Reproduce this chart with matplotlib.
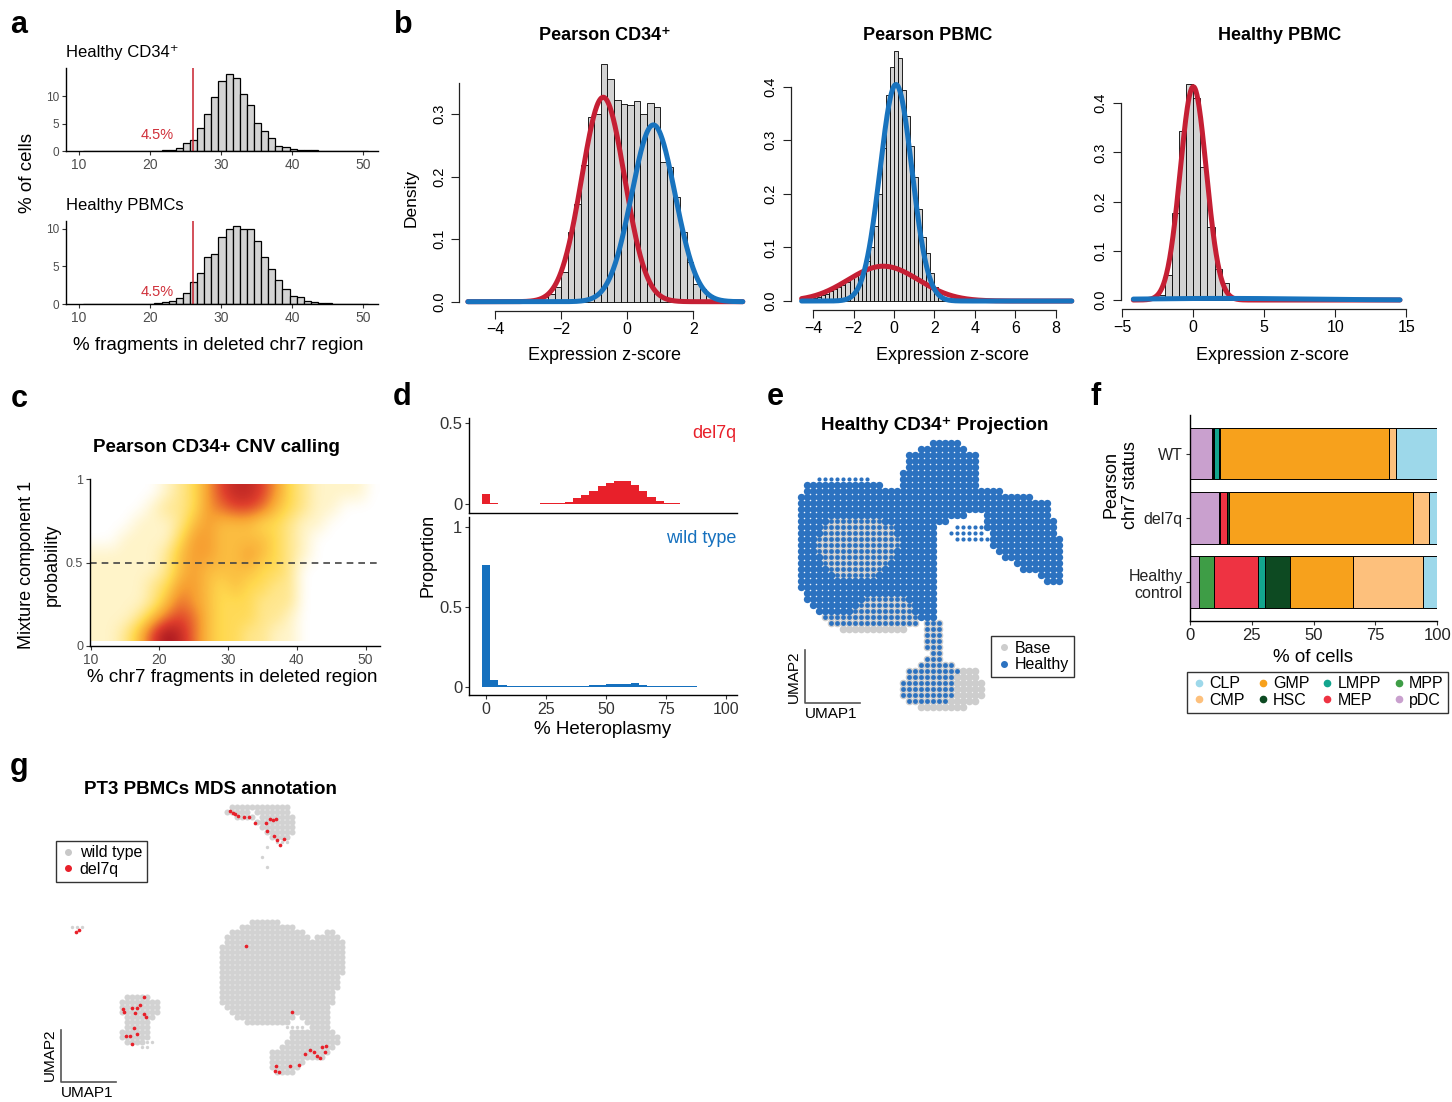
import numpy as np
import matplotlib
matplotlib.use("Agg")
import matplotlib.pyplot as plt
from matplotlib.colors import LinearSegmentedColormap
from matplotlib.lines import Line2D

plt.rcParams["font.family"] = ["Liberation Sans", "DejaVu Sans"]

W, H = 1452, 1102

# ---------------- data ----------------
# a: % of cells in 1-unit bins starting at 10.65
a_bin_left = np.arange(10.65, 50.6, 1.0)
a_cd34 = [0, 0, 0.01, 0.01, 0.02, 0.02, 0.03, 0.04, 0.05, 0.06, 0.08, 0.12, 0.25, 0.6,
          1.5, 2.1, 4.2, 6.7, 9.9, 12.8, 14.1, 13.3, 10.5, 8.4, 5.2, 3.6, 2.45, 0.9,
          0.75, 0.37, 0.25, 0.12, 0.1, 0.07, 0.06, 0.05, 0.04, 0.03, 0.02, 0.02]
a_pbmc = [0, 0, 0.01, 0.01, 0.02, 0.02, 0.03, 0.03, 0.04, 0.08, 0.13, 0.27, 0.45, 0.8,
          1.55, 2.9, 4.1, 6.2, 6.7, 8.9, 9.95, 10.3, 10.0, 10.0, 8.4, 6.2, 4.7, 3.2,
          2.0, 1.15, 0.97, 0.4, 0.27, 0.22, 0.13, 0.1, 0.08, 0.06, 0.05, 0.03]
a_cutoff = 26.1

# b: histogram densities + fitted gaussian components (mean, sd, weight)
b1_left = np.arange(-2.8, 2.7, 0.2)
b1_dens = [0.003, 0.008, 0.013, 0.023, 0.047, 0.112, 0.157, 0.219, 0.296, 0.301, 0.380,
           0.357, 0.323, 0.317, 0.315, 0.321, 0.300, 0.318, 0.311, 0.224, 0.216, 0.167,
           0.112, 0.064, 0.029, 0.021, 0.011, 0.005]
b1_red = (-0.73, 0.65, 0.533)
b1_blue = (0.79, 0.66, 0.468)

b2_left = np.arange(-4.6, 2.7, 0.2)
b2_dens = [0.002, 0.003, 0.004, 0.006, 0.008, 0.011, 0.014, 0.019, 0.023, 0.027, 0.030,
           0.036, 0.043, 0.048, 0.053, 0.060, 0.075, 0.100, 0.140, 0.200, 0.285, 0.384,
           0.437, 0.467, 0.453, 0.394, 0.345, 0.290, 0.232, 0.172, 0.120, 0.090, 0.052,
           0.027, 0.011, 0.004, 0.002]
b2_red = (-0.53, 1.75, 0.285)
b2_blue = (0.10, 0.79, 0.80)

b3_left = np.arange(-3.0, 2.6, 0.5)
b3_dens = [0.002, 0.010, 0.050, 0.176, 0.344, 0.440, 0.410, 0.270, 0.149, 0.063, 0.034, 0.004]
b3_red = (0.0, 0.92, 1.0)
b3_blue = (2.0, 6.0, 0.05)

# c: 2D density levels (0-9), rows top (p=0.95) to bottom (p=0.05), cols x=11..51 step 2
c_density = [
    [0, 0, 0, 0, 0, 1, 2, 3, 5, 7, 8, 8, 7, 5, 3, 2, 1, 1, 1, 1, 0],
    [0, 0, 0, 0, 1, 2, 2, 3, 5, 6, 7, 7, 6, 4, 3, 2, 1, 1, 0, 0, 0],
    [0, 0, 0, 1, 1, 1, 2, 4, 5, 4, 4, 4, 3, 3, 2, 1, 1, 0, 0, 0, 0],
    [0, 0, 1, 1, 1, 1, 3, 5, 5, 4, 4, 4, 4, 3, 2, 1, 0, 0, 0, 0, 0],
    [1, 1, 1, 1, 1, 2, 4, 5, 5, 4, 4, 5, 4, 3, 2, 1, 0, 0, 0, 0, 0],
    [1, 1, 1, 1, 1, 2, 4, 5, 4, 4, 4, 4, 3, 3, 2, 0, 0, 0, 0, 0, 0],
    [1, 1, 1, 1, 2, 3, 5, 5, 4, 3, 4, 3, 3, 2, 2, 0, 0, 0, 0, 0, 0],
    [1, 1, 1, 1, 2, 4, 6, 5, 4, 3, 3, 3, 2, 2, 2, 0, 0, 0, 0, 0, 0],
    [1, 1, 1, 2, 4, 6, 7, 6, 4, 3, 3, 3, 2, 2, 1, 0, 0, 0, 0, 0, 0],
    [1, 1, 2, 4, 7, 9, 8, 6, 4, 3, 3, 2, 2, 1, 1, 0, 0, 0, 0, 0, 0],
]

# d: heteroplasmy histogram proportions, 30 bins centred on 0..100
d_centers = np.linspace(0, 100, 30)
d_del7q = [0.062, 0.008, 0.002, 0.002, 0.002, 0.003, 0.003, 0.004, 0.006, 0.008, 0.014,
           0.035, 0.056, 0.080, 0.110, 0.130, 0.145, 0.145, 0.120, 0.080, 0.045, 0.020,
           0.008, 0.004, 0.003, 0.002, 0.002, 0.001, 0.001, 0.0]
d_wt = [0.76, 0.042, 0.010, 0.004, 0.004, 0.003, 0.003, 0.003, 0.004, 0.004, 0.005, 0.005,
        0.006, 0.008, 0.012, 0.016, 0.018, 0.015, 0.020, 0.012, 0.007, 0.005, 0.004,
        0.003, 0.002, 0.002, 0.001, 0.001, 0.001, 0.0]

# e: UMAP occupancy, row -> runs (col_from, col_to, kind)
# kinds: b = healthy (blue), m = base + healthy, g = base only, s = sparse healthy
e_runs = {
    0: [(22, 26, "b")], 1: [(20, 27, "b")], 2: [(18, 29, "b")], 3: [(18, 29, "b")],
    4: [(18, 29, "b")], 5: [(17, 29, "b")], 6: [(3, 11, "s"), (17, 29, "b")],
    7: [(1, 13, "b"), (17, 29, "b")], 8: [(1, 33, "b")], 9: [(0, 38, "b")],
    10: [(0, 41, "b")], 11: [(0, 41, "b")], 12: [(0, 27, "b"), (31, 41, "b")],
    13: [(0, 4, "b"), (5, 13, "m"), (14, 24, "b"), (31, 42, "b")],
    14: [(0, 3, "b"), (4, 15, "m"), (16, 22, "b"), (26, 30, "s"), (31, 42, "b")],
    15: [(0, 3, "b"), (4, 15, "m"), (16, 22, "b"), (25, 30, "s"), (32, 42, "b")],
    16: [(0, 2, "b"), (3, 16, "m"), (17, 22, "b"), (26, 31, "s"), (32, 43, "b")],
    17: [(0, 2, "b"), (3, 16, "m"), (17, 22, "b"), (32, 43, "b")],
    18: [(0, 2, "b"), (3, 15, "m"), (16, 22, "b"), (33, 43, "b")],
    19: [(0, 3, "b"), (4, 15, "m"), (16, 22, "b"), (34, 43, "b")],
    20: [(0, 3, "b"), (4, 14, "m"), (15, 22, "b"), (36, 43, "b")],
    21: [(0, 4, "b"), (5, 13, "m"), (14, 22, "b"), (37, 43, "b")],
    22: [(0, 5, "b"), (6, 12, "m"), (13, 22, "b"), (40, 43, "b")],
    23: [(0, 22, "b"), (41, 43, "b")], 24: [(0, 22, "b")], 25: [(1, 22, "b")],
    26: [(1, 10, "b"), (11, 17, "m"), (18, 22, "b")],
    27: [(2, 9, "b"), (10, 18, "m"), (19, 22, "b")],
    28: [(3, 8, "b"), (9, 18, "m"), (19, 22, "b")],
    29: [(4, 19, "m"), (20, 22, "b")], 30: [(5, 19, "m"), (21, 23, "m")],
    31: [(7, 17, "g"), (21, 23, "m")], 32: [(21, 23, "m")], 33: [(21, 23, "m")],
    34: [(21, 23, "m")], 35: [(22, 23, "m")], 36: [(21, 23, "m")], 37: [(20, 25, "m")],
    38: [(18, 26, "m"), (27, 29, "g")], 39: [(18, 25, "m"), (26, 29, "g")],
    40: [(17, 25, "m"), (26, 30, "g")], 41: [(17, 25, "m"), (26, 30, "g")],
    42: [(17, 25, "m"), (26, 30, "g")], 43: [(18, 24, "m"), (25, 29, "g")],
    44: [(20, 27, "g")],
}

# f: % of cells per cell type, stacked left to right
f_groups = ["Healthy\ncontrol", "del7q", "WT"]
f_types = ["pDC", "MPP", "MEP", "LMPP", "HSC", "GMP", "CMP", "CLP"]
f_healthy = [3.7, 6.3, 17.6, 2.9, 10.2, 25.4, 28.1, 5.8]
f_del7q = [11.9, 0.2, 2.8, 0.2, 1.0, 73.9, 6.6, 3.4]
f_wt = [9.0, 0.3, 0.7, 1.8, 0.5, 68.0, 3.0, 16.7]
f_colors = {"CLP": "#9DD8EA", "CMP": "#FDC07C", "GMP": "#F7A11C", "HSC": "#0D4A22",
            "LMPP": "#13A58E", "MEP": "#EE3342", "MPP": "#3E9D46", "pDC": "#C9A0CE"}

# g: UMAP occupancy (wild type cells) and del7q cell coordinates
g_runs = {
    0: [(33, 37, "g"), (38, 44, "g")], 1: [(32, 36, "g"), (38, 44, "g")],
    2: [(34, 37, "g"), (39, 45, "g")], 3: [(38, 45, "g")], 4: [(39, 45, "g")],
    5: [(40, 45, "g")], 6: [(41, 44, "g")], 7: [(42, 44, ".")], 8: [(40, 40, ".")],
    10: [(39, 39, ".")], 12: [(40, 40, ".")],
    23: [(37, 42, "g")], 24: [(1, 3, "."), (35, 45, "g")],
    25: [(33, 47, "g"), (52, 53, "g")], 26: [(32, 48, "g"), (50, 54, "g")],
    27: [(32, 55, "g")], 28: [(31, 55, "g")], 29: [(31, 55, "g")], 30: [(31, 55, "g")],
    31: [(31, 55, "g")], 32: [(31, 55, "g")], 33: [(31, 55, "g")], 34: [(31, 54, "g")],
    35: [(31, 54, "g")], 36: [(31, 54, "g")], 37: [(31, 53, "g")],
    38: [(12, 16, "g"), (31, 53, "g")], 39: [(11, 18, "g"), (31, 53, "g")],
    40: [(11, 18, "g"), (32, 52, "g")], 41: [(11, 18, "g"), (33, 52, "g")],
    42: [(12, 17, "g"), (34, 45, "g"), (47, 52, "g")],
    43: [(12, 16, "g"), (36, 44, "g"), (48, 52, "g")],
    44: [(12, 16, "g"), (44, 47, "."), (49, 52, "g")],
    45: [(11, 16, "g"), (45, 53, "g")], 46: [(11, 16, "g"), (45, 54, "g")],
    47: [(12, 15, "g"), (16, 17, "."), (44, 54, "g")], 48: [(15, 16, "."), (43, 53, "g")],
    49: [(41, 52, "g")], 50: [(41, 51, "g")], 51: [(41, 47, "g")], 52: [(41, 46, "g")],
    53: [(42, 45, "g")],
}
g_del7q_umap1 = [32.6, 33.1, 33.6, 34.1, 35.3, 36.3, 37.6, 39.7, 40.5, 41.1, 41.8, 39.9,
                 41.4, 41.9, 43.4, 42.6, 1.7, 2.3, 15.4, 14.6, 12.9, 13.9, 11.1, 11.4,
                 13.6, 15.4, 15.8, 13.3, 11.8, 12.6, 13.9, 12.9, 35.8, 44.9, 47.6, 49.3,
                 49.9, 50.6, 51.6, 50.9, 51.8, 46.3, 44.5, 41.8, 41.6, 42.3, 48.6]
g_del7q_umap2 = [-0.8, -1.1, -1.4, -1.7, -1.9, -1.9, -3.1, -3.1, -2.3, -2.6, -2.3, -4.7,
                 -5.8, -6.5, -6.3, -7.6, -24.9, -24.6, -37.9, -39.6, -40.1, -40.1, -40.3,
                 -40.9, -41.1, -41.3, -41.9, -44.1, -45.7, -45.7, -45.3, -47.3, -27.7,
                 -40.9, -49.3, -48.9, -49.8, -50.1, -48.9, -47.9, -47.8, -51.6, -51.8,
                 -51.8, -52.8, -52.9, -48.6]

RED_CURVE = "#C51F34"
BLUE_CURVE = "#1873BE"
RED = "#E8202A"
BLUE = "#1570BE"
UMAP_BLUE = "#2C72C0"
GRAY_PT = "#CDCDCD"


def add_ax(x0, y0, x1, y1):
    return fig.add_axes([x0 / W, 1 - y1 / H, (x1 - x0) / W, (y1 - y0) / H])


def put(x, y, s, **kw):
    kw.setdefault("ha", "center")
    kw.setdefault("va", "center")
    fig.text(x / W, 1 - y / H, s, **kw)


def gg_axes(ax):
    ax.spines[["top", "right"]].set_visible(False)
    for s in ("left", "bottom"):
        ax.spines[s].set_linewidth(1.0)
        ax.spines[s].set_color("black")
    ax.tick_params(length=3, width=0.8, color="#333333", labelcolor="#4D4D4D", pad=2)


def base_axes(ax, xt, yt, ytop):
    ax.spines[["top", "right"]].set_visible(False)
    ax.spines["left"].set_bounds(yt[0], ytop)
    ax.spines["bottom"].set_bounds(xt[0], xt[-1])
    for s in ("left", "bottom"):
        ax.spines[s].set_linewidth(0.9)
        ax.spines[s].set_color("#222222")
    ax.set_xticks(xt)
    ax.set_yticks(yt)
    ax.set_yticklabels([f"{v:.1f}" for v in yt], rotation=90, va="center")
    ax.tick_params(direction="out", length=5.5, width=0.8, color="#222222")
    ax.tick_params(axis="y", pad=4, labelsize=10.5)
    ax.tick_params(axis="x", pad=2.5, labelsize=11.5)


def normal_curve(x, mean, sd, weight):
    return weight * np.exp(-0.5 * ((x - mean) / sd) ** 2) / (sd * np.sqrt(2 * np.pi))


def runs_to_points(runs, kind):
    xs, ys = [], []
    for r, segs in runs.items():
        for c0, c1, k in segs:
            if k == kind:
                for c in range(c0, c1 + 1):
                    xs.append(c)
                    ys.append(-r)
    return xs, ys


fig = plt.figure(figsize=(W / 100, H / 100), dpi=100)

# ---------------- panel a ----------------
for box, vals, title, ytop, ty in [((66, 68, 378, 151), a_cd34, "Healthy CD34⁺", 15.2, 2.9),
                                    ((66, 221, 378, 304.3), a_pbmc, "Healthy PBMCs", 11.0, 1.63)]:
    ax = add_ax(*box)
    ax.bar(a_bin_left, vals, width=1.0, align="edge", color="#D3D3D3",
           edgecolor="black", linewidth=0.9)
    ax.axvline(a_cutoff, color="#C8202D", lw=1.1)
    ax.text(21.0, ty, "4.5%", color="#D0303A", fontsize=10.5, ha="center", va="center")
    ax.set_xlim(8.2, 52.1)
    ax.set_ylim(0, ytop)
    ax.set_xticks([10, 20, 30, 40, 50])
    ax.set_yticks([0, 5, 10])
    gg_axes(ax)
    ax.tick_params(axis="x", labelsize=10)
    ax.tick_params(axis="y", labelsize=8.5)
    put(66, box[1] - 11, title, fontsize=12, ha="left", va="baseline")

put(27, 173, "% of cells", rotation=90, fontsize=13.5)
put(218, 345, "% fragments in deleted chr7 region", fontsize=13.5)

# ---------------- panel b ----------------
b_specs = [
    ((459.3, 54.7, 752.7, 311.2), (-5.09, 3.8), (-0.0152, 0.3952), b1_left, 0.2, b1_dens,
     b1_red, b1_blue, (-4.83, 3.5), [-4, -2, 0, 2], [0, 0.1, 0.2, 0.3], 0.35),
    ((790.7, 38.4, 1082.5, 309.6), (-5.11, 9.33), (-0.016, 0.49), b2_left, 0.2, b2_dens,
     b2_red, b2_blue, (-4.57, 8.8), [-4, -2, 0, 2, 4, 6, 8], [0, 0.1, 0.2, 0.3, 0.4], 0.4),
    ((1120.7, 74.9, 1410.6, 308.7), (-5.11, 15.3), (-0.0176, 0.4576), b3_left, 0.5, b3_dens,
     b3_red, b3_blue, (-4.22, 14.55), [-5, 0, 5, 10, 15], [0, 0.1, 0.2, 0.3, 0.4], 0.4),
]
for box, xl, yl, left, bw, dens, red, blue, xr, xt, yt, ytop in b_specs:
    ax = add_ax(*box)
    ax.bar(left, dens, width=bw, align="edge", color="#D3D3D3", edgecolor="black",
           linewidth=0.6)
    xs = np.linspace(xr[0], xr[1], 500)
    ax.plot(xs, normal_curve(xs, *red), color=RED_CURVE, lw=3.6, solid_capstyle="round")
    ax.plot(xs, normal_curve(xs, *blue), color=BLUE_CURVE, lw=3.6, solid_capstyle="round")
    ax.set_xlim(*xl)
    ax.set_ylim(*yl)
    base_axes(ax, xt, yt, ytop)

put(605, 36, "Pearson CD34⁺", fontsize=13, fontweight="bold")
put(928, 36, "Pearson PBMC", fontsize=13, fontweight="bold")
put(1280, 36, "Healthy PBMC", fontsize=13, fontweight="bold")
for xc in (605, 952, 1272):
    put(xc, 355, "Expression z-score", fontsize=13)
put(411, 198, "Density", rotation=90, fontsize=12.5)

# ---------------- panel c ----------------
ax = add_ax(90, 479.3, 380, 645.7)
heat = LinearSegmentedColormap.from_list(
    "heat", [(0, "#FFFFFF"), (0.12, "#FFF3C4"), (0.35, "#FFD84E"), (0.55, "#F7A032"),
             (0.78, "#DF3F2C"), (1.0, "#A3121F")])
ax.imshow(np.array(c_density) / 9.0, cmap=heat, vmin=0, vmax=1, extent=[10, 52, 0.03, 0.97],
          aspect="auto", interpolation="bicubic", origin="upper")
ax.axhline(0.5, color="#444444", lw=1.2, ls=(0, (4, 3)))
ax.set_xlim(9.9, 52.1)
ax.set_ylim(0, 1)
ax.set_xticks([10, 20, 30, 40, 50])
ax.set_yticks([0, 0.5, 1])
ax.set_yticklabels(["0", "0.5", "1"])
gg_axes(ax)
ax.tick_params(axis="x", labelsize=10)
ax.tick_params(axis="y", labelsize=9)
put(216, 448, "Pearson CD34+ CNV calling", fontsize=13.5, fontweight="bold")
put(27, 565, "Mixture component 1", rotation=90, fontsize=13)
put(52, 565, "probability", rotation=90, fontsize=13)
put(232, 678, "% chr7 fragments in deleted region", fontsize=13.5)

# ---------------- panel d ----------------
ax1 = add_ax(469.3, 418.3, 737.3, 512.7)
ax1.bar(d_centers, d_del7q, width=100 / 29, color=RED, linewidth=0)
ax1.set_xlim(-6.96, 104.7)
ax1.set_ylim(-0.054, 0.531)
ax1.set_yticks([0, 0.5])
ax1.set_yticklabels(["0", "0.5"])
ax1.set_xticks([])
gg_axes(ax1)
ax1.tick_params(axis="y", labelsize=12, labelcolor="#333333")

ax2 = add_ax(469.3, 516.7, 737.3, 695)
ax2.bar(d_centers, d_wt, width=100 / 29, color=BLUE, linewidth=0)
ax2.set_xlim(-6.96, 104.7)
ax2.set_ylim(-0.052, 1.0625)
ax2.set_yticks([0, 0.5, 1])
ax2.set_yticklabels(["0", "0.5", "1"])
ax2.set_xticks([0, 25, 50, 75, 100])
gg_axes(ax2)
ax2.tick_params(labelsize=12, labelcolor="#333333")
ax2.tick_params(axis="x", labelsize=11.5)
put(736, 433, "del7q", color=RED, fontsize=13, ha="right")
put(736, 539, "wild type", color=BLUE, fontsize=13, ha="right")
put(428, 555, "Proportion", rotation=90, fontsize=13)
put(603, 730, "% Heteroplasmy", fontsize=13.5)

# ---------------- panel e ----------------
ax = add_ax(795, 438, 1080, 720)
gx, gy = runs_to_points(e_runs, "g")
mx, my = runs_to_points(e_runs, "m")
bx, by = runs_to_points(e_runs, "b")
sx, sy = runs_to_points(e_runs, "s")
ax.scatter(gx + mx, gy + my, s=30, color=GRAY_PT, linewidths=0)
ax.scatter(bx, by, s=28, color=UMAP_BLUE, linewidths=0)
ax.scatter(mx, my, s=12, color=UMAP_BLUE, linewidths=0)
ax.scatter(sx, sy, s=9, color=UMAP_BLUE, linewidths=0)
ax.set_xlim(-1, 46.5)
ax.set_ylim(-46.17, 0.83)
ax.axis("off")
ax.plot([0.034, 0.034, 0.229], [0.248, 0.0613, 0.0613], color="#555555", lw=1.2,
        transform=ax.transAxes, clip_on=False)
put(935, 425, "Healthy CD34⁺ Projection", fontsize=13.5, fontweight="bold")
put(794, 676.7, "UMAP2", rotation=90, fontsize=11)
put(831, 714, "UMAP1", fontsize=11)
leg = fig.legend(handles=[Line2D([], [], marker="o", ls="", color=GRAY_PT, ms=4, label="Base"),
                          Line2D([], [], marker="o", ls="", color=UMAP_BLUE, ms=4, label="Healthy")],
                 loc="upper left", bbox_to_anchor=(991 / W, 1 - 636 / H), frameon=True,
                 fancybox=False, edgecolor="black", fontsize=11.5, handletextpad=0.2,
                 borderpad=0.3, labelspacing=0.1, handlelength=1.0, borderaxespad=0)
leg.get_frame().set_linewidth(1.0)

# ---------------- panel f ----------------
ax = add_ax(1189.6, 415, 1437.4, 620.7)
f_rows = [f_healthy, f_del7q, f_wt]
for gi, row in enumerate(f_rows):
    left = 0.0
    for t, v in zip(f_types, row):
        ax.barh(gi + 1, v, left=left, height=0.8, color=f_colors[t], edgecolor="black",
                linewidth=0.7)
        left += v
ax.set_xlim(0, 100)
ax.set_ylim(0.4, 3.6)
ax.set_yticks([1, 2, 3])
ax.set_yticklabels(f_groups, fontsize=11.5)
ax.set_xticks([0, 25, 50, 75, 100])
gg_axes(ax)
ax.tick_params(labelcolor="#222222")
ax.tick_params(axis="x", labelsize=12)
put(1121, 485, "Pearson\nchr7 status", rotation=90, fontsize=13)
put(1313, 657, "% of cells", fontsize=13.5)
legend_order = ["CLP", "CMP", "GMP", "HSC", "LMPP", "MEP", "MPP", "pDC"]
leg = fig.legend(handles=[Line2D([], [], marker="o", ls="", color=f_colors[t], ms=4.5, label=t)
                          for t in legend_order],
                 ncol=4, loc="upper left", bbox_to_anchor=(1186.5 / W, 1 - 671.7 / H),
                 frameon=True, fancybox=False, edgecolor="black", fontsize=11.5,
                 handletextpad=0.15, columnspacing=0.6, borderpad=0.3, labelspacing=0.1,
                 handlelength=1.0, borderaxespad=0)
leg.get_frame().set_linewidth(1.0)

# ---------------- panel g ----------------
ax = add_ax(55, 800, 350, 1085)
gx, gy = runs_to_points(g_runs, "g")
lx, ly = runs_to_points(g_runs, ".")
ax.scatter(gx, gy, s=19, color="#D2D2D2", linewidths=0)
ax.scatter(lx, ly, s=6, color="#D2D2D2", linewidths=0)
ax.scatter(g_del7q_umap1, g_del7q_umap2, s=7, color=RED, linewidths=0)
ax.set_xlim(-2.4, 56.6)
ax.set_ylim(-55.6, 1.4)
ax.axis("off")
ax.plot([0.0203, 0.0203, 0.2068], [0.193, 0.0116, 0.0116], color="#555555", lw=1.2,
        transform=ax.transAxes, clip_on=False)
put(210, 790, "PT3 PBMCs MDS annotation", fontsize=13.5, fontweight="bold")
put(50, 1055, "UMAP2", rotation=90, fontsize=11)
put(87, 1093, "UMAP1", fontsize=11)
leg = fig.legend(handles=[Line2D([], [], marker="o", ls="", color="#C8C8C8", ms=4, label="wild type"),
                          Line2D([], [], marker="o", ls="", color=RED, ms=4, label="del7q")],
                 loc="upper left", bbox_to_anchor=(55.7 / W, 1 - 840.7 / H), frameon=True,
                 fancybox=False, edgecolor="black", fontsize=11.5, handletextpad=0.2,
                 borderpad=0.3, labelspacing=0.1, handlelength=1.0, borderaxespad=0)
leg.get_frame().set_linewidth(1.0)

# ---------------- panel letters ----------------
for lx_, ly_, s in [(19, 33, "a"), (403, 33, "b"), (19, 407, "c"), (402, 405, "d"),
                    (775, 405, "e"), (1096, 405, "f"), (19, 775, "g")]:
    put(lx_, ly_, s, fontsize=22, fontweight="bold", va="baseline")

fig.savefig("out.png", dpi=100)
